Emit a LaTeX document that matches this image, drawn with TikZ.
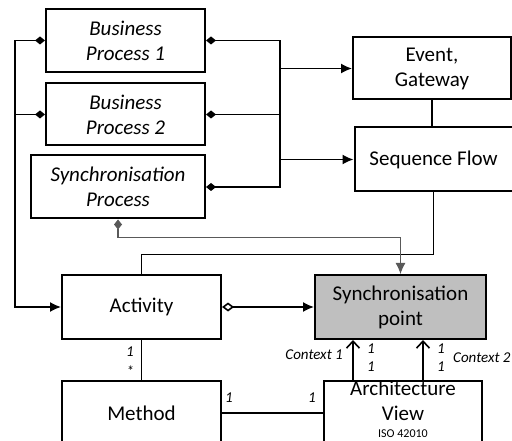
\documentclass[tikz,border=0pt]{standalone}
\usepackage{fontspec}
\setmainfont{Carlito}
\usetikzlibrary{arrows.meta}
\begin{document}
\begin{tikzpicture}[x=1pt,y=-1pt,
  box/.style={draw, line width=2pt, align=center, inner sep=0pt, font=\fontsize{21}{25}\selectfont},
  itbox/.style={box, font=\fontsize{21}{25}\selectfont\itshape},
  conn/.style={line width=1.6pt},
  thin conn/.style={line width=1.1pt, draw=black!65},
  fd/.tip={Diamond[length=10pt,width=8pt]},
  od/.tip={Diamond[open,length=12pt,width=9pt]},
  tri/.tip={Latex[length=11pt,width=10pt]},
  barb/.tip={Straight Barb[length=7pt,width=13pt,line width=1.6pt]},
  lab/.style={font=\fontsize{15}{17}\selectfont\itshape, inner sep=0pt}
]
\useasboundingbox (0,0) rectangle (512,441);
\clip (0,0) rectangle (512,441);

\node[itbox, minimum width=159pt, minimum height=63pt] (bp1) at (125.5,40.5) {Business\\Process 1};
\node[itbox, minimum width=159pt, minimum height=62pt] (bp2) at (125.5,114.5) {Business\\Process 2};
\node[itbox, minimum width=174pt, minimum height=63pt] (sp) at (118,187) {Synchronisation\\Process};
\node[box, minimum width=158pt, minimum height=62pt] (ev) at (432,68.5) {Event,\\Gateway};
\node[box, minimum width=158pt, minimum height=64pt] (sf) at (433.5,159.5) {Sequence Flow};
\node[box, minimum width=159pt, minimum height=64pt] (act) at (141.5,307) {Activity};
\node[box, minimum width=171pt, minimum height=64pt, fill=black!25] (spt) at (400.5,307) {Synchronisation\\point};
\node[box, minimum width=159pt, minimum height=64pt] (meth) at (141.5,413) {Method};
\node[box, minimum width=158pt, minimum height=80pt, anchor=north] (arch) at (403,380) {};
\node[font=\fontsize{21}{25}\selectfont, align=center, inner sep=0pt, anchor=north] (archt) at (403,381) {Architecture\\View};
\node[font=\fontsize{12}{14}\selectfont, inner sep=0pt, anchor=north] (iso) at (403,430) {ISO 42010};

% buses
\coordinate (busL) at (15,0);
\coordinate (busR) at (280,0);
\draw[conn, fd-] (bp1.west) -- (bp1.west -| busL);
\draw[conn, -tri] (bp1.west -| busL) |- (act.west);
\draw[conn, fd-] (bp2.west) -- (bp2.west -| busL);

\draw[conn, fd-fd] (bp1.east) -- (bp1.east -| busR) -- (sp.east -| busR) -- (sp.east);
\draw[conn, fd-] (bp2.east) -- (bp2.east -| busR);
\draw[conn, -tri] (ev.west -| busR) -- (ev.west);
\draw[conn, -tri] (sf.west -| busR) -- (sf.west);

% event to sequence flow
\draw[conn] (ev.south) -- (ev.south |- sf.north);
% sequence flow to activity
\draw[conn] (sf.south) -- ++(0,62) -| (act.north);
% synchronisation process to sync point
\draw[thin conn, fd-tri] (sp.south) -- ++(0,18) -| (spt.north);
% activity to sync point
\draw[conn, od-tri] (act.east) -- (spt.west);
% activity to method
\draw[conn] (act.south) -- (meth.north);
\node[lab] (m1) at (130,352) {1};
\node[lab] (m2) at (130,371) {*};
% method to architecture view
\draw[conn] (meth.east) -- (meth.east -| arch.west);
\node[lab] (a1) at (229,398) {1};
\node[lab] (a2) at (312,398) {1};
% context arrows
\coordinate (c1) at ([xshift=30pt]arch.north west);
\coordinate (c2) at ([xshift=100pt]arch.north west);
\draw[conn, -barb] (c1) -- (c1 |- spt.south);
\draw[conn, -barb] (c2) -- (c2 |- spt.south);
\node[lab, anchor=east] (ctx1) at (343,355) {Context 1};
\node[lab] (c1a) at (371,349) {1};
\node[lab] (c1b) at (371,367) {1};
\node[lab] (c2a) at (441,349) {1};
\node[lab] (c2b) at (441,367) {1};
\node[lab, anchor=west] (ctx2) at (453,358) {Context 2};
\end{tikzpicture}
\end{document}
